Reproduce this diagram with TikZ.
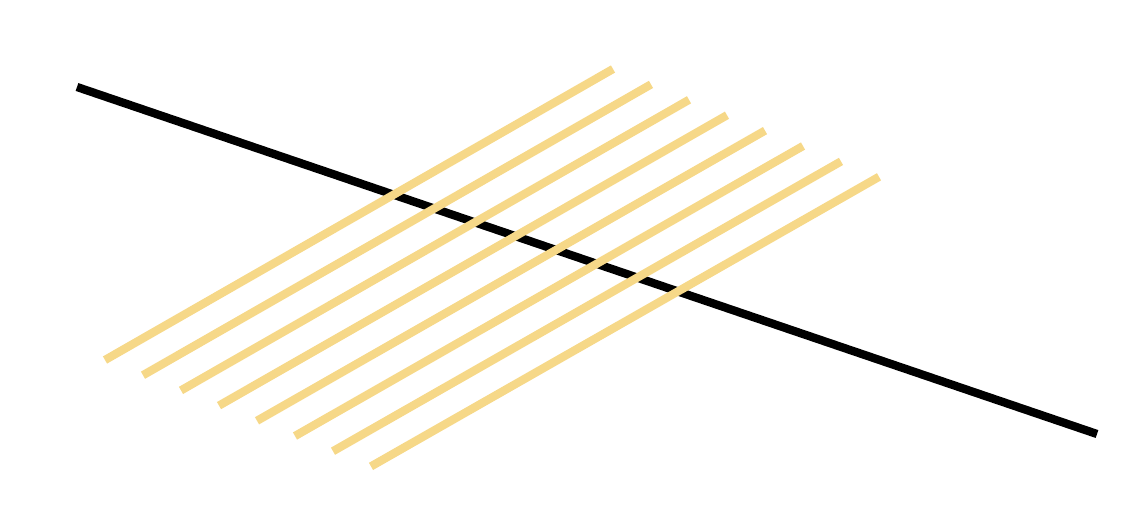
\documentclass[tikz,border=0pt]{standalone}
\definecolor{straw}{RGB}{246,216,136}
\begin{document}
\begin{tikzpicture}[x=1pt,y=-1pt,
  blackline/.style={line width=8.3pt,black,line cap=butt},
  yellowline/.style={line width=8.3pt,straw,line cap=butt}]
\useasboundingbox (0,0) rectangle (1128,512);
\coordinate (b1) at (77,87);
\coordinate (b2) at (1097,434);
\draw[blackline] (b1) -- (b2);
\foreach \i in {0,...,7}{
  \coordinate (s\i) at ({105+38*\i},{360+15.2*\i});
  \coordinate (e\i) at ({613+38*\i},{69+15.4*\i});
  \draw[yellowline] (s\i) -- (e\i);
}
\end{tikzpicture}
\end{document}
